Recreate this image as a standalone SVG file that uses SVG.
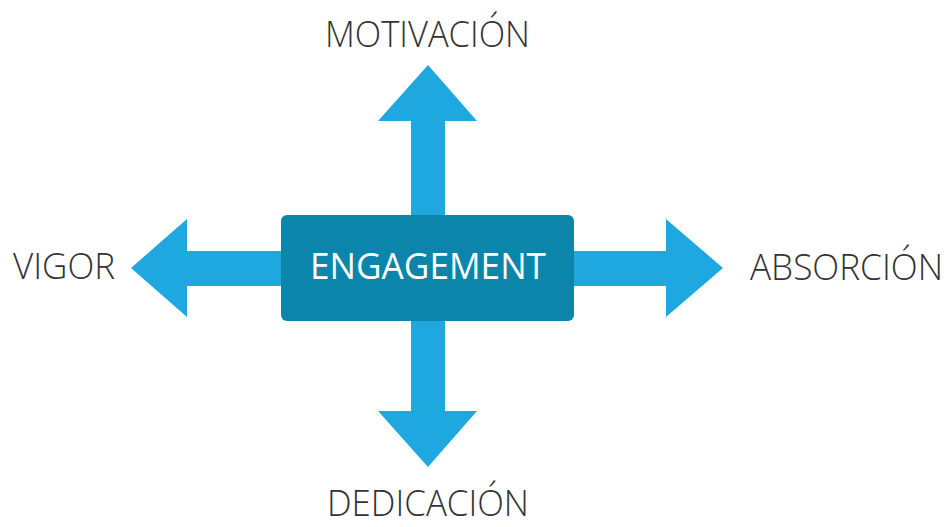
<svg xmlns="http://www.w3.org/2000/svg" width="949" height="527" viewBox="0 0 949 527">
<style>
.arrow{fill:#1fa8e0}
.lbl{font-family:"Open Sans","Liberation Sans",sans-serif;font-weight:300;font-size:36px;fill:#333333}
.core{font-family:"Open Sans","Liberation Sans",sans-serif;font-weight:400;font-size:36px;fill:#ffffff}
</style>
<rect width="949" height="527" fill="#ffffff"/>
<g id="connectors">
<polygon class="arrow" points="411,215 411,121 378,121 428,65 477,121 445,121 445,215"/>
<polygon class="arrow" points="411,321 411,411 378,411 428,467 477,411 445,411 445,321"/>
<polygon class="arrow" points="281,251 187,251 187,219 131,268 187,317 187,286 281,286"/>
<polygon class="arrow" points="574,251 666,251 666,219 723,268 666,317 666,286 574,286"/>
</g>
<g id="engagement">
<rect x="281" y="215" width="293" height="106" rx="6" fill="#0b85a9"/>
<text class="core" x="310" y="279" textLength="236" lengthAdjust="spacingAndGlyphs">ENGAGEMENT</text>
</g>
<g id="motivacion">
<text class="lbl" x="325" y="47" textLength="205" lengthAdjust="spacingAndGlyphs">MOTIVACIÓN</text>
</g>
<g id="dedicacion">
<text class="lbl" x="327" y="516" font-size="34" textLength="202" lengthAdjust="spacingAndGlyphs">DEDICACIÓN</text>
</g>
<g id="vigor">
<text class="lbl" x="13" y="279" textLength="102" lengthAdjust="spacingAndGlyphs">VIGOR</text>
</g>
<g id="absorcion">
<text class="lbl" x="750" y="280" textLength="193" lengthAdjust="spacingAndGlyphs">ABSORCIÓN</text>
</g>
</svg>
